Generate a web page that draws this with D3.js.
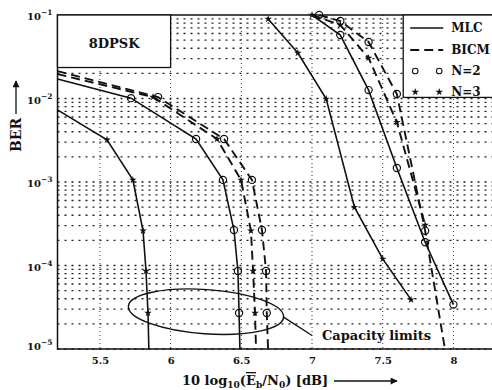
<!DOCTYPE html>
<html>
<head>
<meta charset="utf-8">
<script src="https://cdn.jsdelivr.net/npm/d3@7"></script>
<style>
  body { margin: 0; background: #fff; }
  svg { display: block; }
  text { font-family: "DejaVu Serif", serif; font-weight: bold; fill: #111; }
</style>
</head>
<body>
<svg width="492" height="390"></svg>
<script>
// Eb/N0 ticks and BER decades
const ebn0Ticks = [5.5, 6, 6.5, 7, 7.5, 8];
const berDecades = [1e-1, 1e-2, 1e-3, 1e-4, 1e-5];

// [Eb/N0 dB, BER, has marker]
// left group of curves (near the capacity limits)
const mlcN3a = [[5.2, 7.3e-3, 0], [5.55, 3.2e-3, 1], [5.733, 1.06e-3, 1], [5.805, 2.6e-4, 1], [5.826, 8.6e-5, 1], [5.84, 2.7e-5, 1], [5.846, 1e-5, 0]];
const mlcN2a = [[5.2, 0.0171, 0], [5.72, 0.0101, 1], [6.18, 3.27e-3, 1], [6.37, 1.06e-3, 1], [6.448, 2.66e-4, 1], [6.476, 8.6e-5, 1], [6.484, 2.7e-5, 1], [6.49, 1e-5, 0]];
const bicmN3a = [[5.2, 0.0196, 0], [5.876, 0.0104, 1], [6.328, 3.27e-3, 1], [6.498, 1.06e-3, 1], [6.568, 2.6e-4, 1], [6.583, 8.6e-5, 1], [6.597, 2.7e-5, 1], [6.604, 1e-5, 0]];
const bicmN2a = [[5.2, 0.0213, 0], [5.911, 0.0104, 1], [6.378, 3.27e-3, 1], [6.575, 1.06e-3, 1], [6.646, 2.66e-4, 1], [6.675, 8.6e-5, 1], [6.68, 2.7e-5, 1], [6.689, 1e-5, 0]];
// right group of curves
const mlcN3b = [[6.69, 0.0895, 1], [6.9, 0.035, 1], [7.1, 0.0099, 1], [7.3, 5.0e-4, 1], [7.5, 1.2e-4, 1], [7.7, 3.9e-5, 1]];
const mlcN2b = [[7.0, 0.1, 0], [7.2, 0.0575, 1], [7.4, 0.0126, 1], [7.6, 1.47e-3, 1], [7.8, 1.9e-4, 1], [8.0, 3.4e-5, 1]];
const bicmN3b = [[7.0, 0.1, 1], [7.2, 0.076, 1], [7.4, 0.0306, 1], [7.6, 5.2e-3, 1], [7.8, 3.05e-4, 1]];
const bicmN2b = [[7.05, 0.1, 1], [7.2, 0.0846, 1], [7.4, 0.0475, 1], [7.6, 0.0113, 1], [7.8, 2.6e-4, 1], [7.94, 1e-5, 0]];

const legendItems = ['MLC', 'BICM', 'N=2', 'N=3'];

const svg = d3.select('svg');
const L = 57.5, T = 15, B = 349;

const x = d3.scaleLinear().domain([5.2, 8.33]).range([L, L + 3.13 * 141.4]);
const y = d3.scaleLog().domain([1e-1, 1e-5]).range([T, B]);

svg.append('clipPath').attr('id', 'clip')
  .append('rect').attr('x', L).attr('y', T).attr('width', 492 - L).attr('height', B - T);

// grid: every minor step of each decade
const minor = [];
for (let k = 2; k <= 5; k++) {
  for (let m = 1; m <= 9; m++) minor.push(m * Math.pow(10, -k));
}
const grid = svg.append('g');
grid.selectAll('line.h').data(minor).enter().append('line')
  .attr('x1', L).attr('x2', 492)
  .attr('y1', d => y(d)).attr('y2', d => y(d))
  .attr('stroke', '#222').attr('stroke-width', 1.3)
  .attr('stroke-dasharray', '2,5');
grid.selectAll('line.v').data(ebn0Ticks).enter().append('line')
  .attr('x1', d => x(d)).attr('x2', d => x(d))
  .attr('y1', T).attr('y2', B)
  .attr('stroke', '#333').attr('stroke-width', 1)
  .attr('stroke-dasharray', '1,3');

// frame (right side runs off the picture)
svg.append('path')
  .attr('d', `M492,${T}H${L}V${B}H492`)
  .attr('fill', 'none').attr('stroke', '#111').attr('stroke-width', 1.5);

// axes labels
const xAxis = svg.append('g').attr('transform', `translate(0,${B})`)
  .call(d3.axisBottom(x).tickValues(ebn0Ticks).tickSize(0).tickPadding(8)
    .tickFormat(d => d3.format('~g')(d)));
xAxis.select('.domain').remove();
xAxis.selectAll('text').attr('font-size', 10).attr('font-family', '"DejaVu Serif", serif');

const yAxis = svg.append('g').attr('transform', `translate(${L},0)`)
  .call(d3.axisLeft(y).tickValues(berDecades).tickSize(0).tickPadding(5).tickFormat(''));
yAxis.select('.domain').remove();
yAxis.selectAll('.tick text').each(function (d, i) {
  const t = d3.select(this).attr('dy', i === berDecades.length - 1 ? '0' : '0.45em')
    .attr('font-size', 10).attr('font-family', '"DejaVu Serif", serif');
  t.append('tspan').text('10');
  t.append('tspan').attr('font-size', 7.5).attr('dy', -5).text('\u2212' + Math.round(-Math.log10(d)));
});

// curves
const line = d3.line().x(d => x(d[0])).y(d => y(d[1]));
const series = [
  { data: mlcN3a, dash: null, mark: 'star' },
  { data: mlcN2a, dash: null, mark: 'circle' },
  { data: bicmN3a, dash: '9,5', mark: 'star' },
  { data: bicmN2a, dash: '9,5', mark: 'circle' },
  { data: mlcN3b, dash: null, mark: 'star' },
  { data: mlcN2b, dash: null, mark: 'circle' },
  { data: bicmN3b, dash: '9,5', mark: 'star' },
  { data: bicmN2b, dash: '9,5', mark: 'circle' }
];
const curves = svg.append('g').attr('clip-path', 'url(#clip)');
curves.selectAll('path').data(series).enter().append('path')
  .attr('d', d => line(d.data))
  .attr('fill', 'none').attr('stroke', '#111')
  .attr('stroke-width', d => d.dash ? 1.9 : 1.6)
  .attr('stroke-dasharray', d => d.dash);

const star = d3.symbol().type(d3.symbolStar).size(18);
const marks = svg.append('g');
series.forEach(s => {
  const pts = s.data.filter(p => p[2]);
  if (s.mark === 'circle') {
    marks.selectAll(null).data(pts).enter().append('circle')
      .attr('cx', p => x(p[0])).attr('cy', p => y(p[1])).attr('r', 3.6)
      .attr('fill', 'none').attr('stroke', '#111').attr('stroke-width', 1.2);
  } else {
    marks.selectAll(null).data(pts).enter().append('path')
      .attr('d', star).attr('transform', p => `translate(${x(p[0])},${y(p[1])})`)
      .attr('fill', '#111');
  }
});

// capacity limits annotation
const ecx = 6.25, ecy = 2.8e-5;
const erx = x(ecx + 0.55) - x(ecx);
const ery = y(ecy / Math.pow(10, 0.265)) - y(ecy);
svg.append('ellipse')
  .attr('cx', x(ecx)).attr('cy', y(ecy)).attr('rx', erx).attr('ry', ery)
  .attr('transform', `rotate(4,${x(ecx)},${y(ecy)})`)
  .attr('fill', 'none').attr('stroke', '#111').attr('stroke-width', 1.4);
svg.append('line')
  .attr('x1', x(ecx) + erx * Math.cos(4 * Math.PI / 180)).attr('y1', y(ecy) + erx * Math.sin(4 * Math.PI / 180))
  .attr('x2', x(7.0)).attr('y2', y(1.45e-5))
  .attr('stroke', '#111').attr('stroke-width', 1.3);
svg.append('text').attr('x', x(7.07)).attr('y', y(1.45e-5)).attr('dy', '0.35em')
  .attr('font-size', 13).text('Capacity limits');

// 8DPSK box
svg.append('rect').attr('x', L).attr('y', T).attr('width', x(6.0) - L).attr('height', y(0.0235) - T)
  .attr('fill', '#fff').attr('stroke', '#111').attr('stroke-width', 1.3);
svg.append('text').attr('x', (L + x(6.0)) / 2).attr('y', y(0.046)).attr('dy', '0.36em')
  .attr('text-anchor', 'middle').attr('font-size', 13).text('8DPSK');

// legend
const lg = svg.append('g');
const lx = x(7.645);
lg.append('rect').attr('x', lx).attr('y', T).attr('width', 100).attr('height', y(0.0103) - T)
  .attr('fill', '#fff').attr('stroke', '#111').attr('stroke-width', 1.3);
const rowY = [28, 50, 71, 92];
legendItems.forEach((name, i) => {
  const ry = rowY[i];
  if (i < 2) {
    lg.append('line').attr('x1', lx + 7).attr('x2', lx + 40).attr('y1', ry).attr('y2', ry)
      .attr('stroke', '#111').attr('stroke-width', i ? 1.9 : 1.6)
      .attr('stroke-dasharray', i ? '9,5' : null);
  } else if (i === 2) {
    [lx + 12, lx + 36].forEach(cx => lg.append('circle').attr('cx', cx).attr('cy', ry).attr('r', 2.8)
      .attr('fill', 'none').attr('stroke', '#111').attr('stroke-width', 1.1));
  } else {
    [lx + 12, lx + 36].forEach(cx => lg.append('path').attr('d', star)
      .attr('transform', `translate(${cx},${ry})`).attr('fill', '#111'));
  }
  lg.append('text').attr('x', lx + 48).attr('y', ry).attr('dy', '0.36em')
    .attr('font-size', 12).text(name);
});

// axis titles
const xt = svg.append('text').attr('x', 182).attr('y', 385).attr('font-size', 13);
xt.append('tspan').text('10 log');
xt.append('tspan').attr('font-size', 9).attr('dy', 3).text('10');
xt.append('tspan').attr('dy', -3).text('(');
xt.append('tspan').attr('text-decoration', 'overline').text('E');
xt.append('tspan').attr('font-size', 9).attr('dy', 3).text('b');
xt.append('tspan').attr('dy', -3).text('/N');
xt.append('tspan').attr('font-size', 9).attr('dy', 3).text('0');
xt.append('tspan').attr('dy', -3).text(') [dB]');

svg.append('defs').append('marker').attr('id', 'arr')
  .attr('viewBox', '0 0 10 10').attr('refX', 9).attr('refY', 5)
  .attr('markerWidth', 9).attr('markerHeight', 7).attr('markerUnits', 'userSpaceOnUse')
  .attr('orient', 'auto')
  .append('path').attr('d', 'M0,0L10,5L0,10Z').attr('fill', '#111');

svg.append('line').attr('x1', 334).attr('x2', 397).attr('y1', 381).attr('y2', 381)
  .attr('stroke', '#111').attr('stroke-width', 1.3).attr('marker-end', 'url(#arr)');

svg.append('text').attr('transform', 'translate(21,135) rotate(-90)')
  .attr('text-anchor', 'middle').attr('font-size', 14).text('BER');
svg.append('line').attr('x1', 16).attr('x2', 16).attr('y1', 114).attr('y2', 81)
  .attr('stroke', '#111').attr('stroke-width', 1.3).attr('marker-end', 'url(#arr)');
</script>
</body>
</html>
